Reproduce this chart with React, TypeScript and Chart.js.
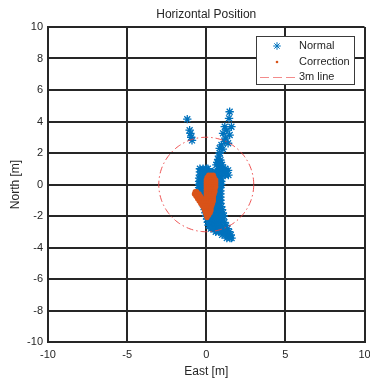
import React, { useEffect, useRef } from "react";
import { Chart, registerables } from "chart.js";
import { drawPoint } from "chart.js/helpers";

Chart.register(...registerables);

const titleText = "Horizontal Position";
const xTitle = "East [m]";
const yTitle = "North [m]";
const xTicks = [-10, -5, 0, 5, 10];
const yTicks = [-10, -8, -6, -4, -2, 0, 2, 4, 6, 8, 10];
const legendLabels = ["Normal", "Correction", "3m line"];

// "Normal" position fixes (East, North) in metres
const normalPoints: [number, number][] = [
  // isolated upper-left group
  [-1.2, 4.15], [-1.05, 3.45], [-1.0, 3.25], [-0.95, 3.0], [-0.9, 2.8],
  // upper-right column
  [1.48, 4.62], [1.44, 4.2], [1.17, 3.67], [1.59, 3.67], [1.3, 3.45],
  [1.06, 3.25], [1.48, 3.14], [1.2, 2.95], [1.17, 2.72], [0.96, 2.51],
  [1.38, 2.62], [0.85, 2.3], [1.05, 2.25], [0.85, 2.0], [0.8, 1.8],
  [0.75, 1.6], [0.9, 1.55], [0.7, 1.4], [0.9, 1.4], [0.64, 1.24],
  [0.85, 1.2], [1.0, 1.25], [0.8, 1.0], [1.0, 1.0], [1.2, 1.0],
  [1.0, 0.8], [1.2, 0.8], [1.38, 0.9],
  // main cluster
  [-0.4, 1.0], [-0.2, 1.0], [0.0, 1.0], [0.1, 1.0],
  [-0.4, 0.8], [-0.2, 0.8], [0.0, 0.8], [0.2, 0.8], [0.4, 0.8], [0.6, 0.8], [0.8, 0.8],
  [-0.4, 0.6], [-0.2, 0.6], [0.0, 0.6], [0.2, 0.6], [0.4, 0.6], [0.6, 0.6], [0.8, 0.6], [1.0, 0.6], [1.2, 0.6], [1.4, 0.6],
  [-0.45, 0.4], [-0.25, 0.4], [-0.05, 0.4], [0.15, 0.4], [0.35, 0.4], [0.55, 0.4], [0.75, 0.4], [0.95, 0.4],
  [-0.45, 0.2], [-0.25, 0.2], [-0.05, 0.2], [0.15, 0.2], [0.35, 0.2], [0.55, 0.2], [0.75, 0.2], [0.95, 0.2],
  [-0.45, 0.0], [-0.25, 0.0], [-0.05, 0.0], [0.15, 0.0], [0.35, 0.0], [0.55, 0.0], [0.75, 0.0], [0.95, 0.0],
  [-0.45, -0.2], [-0.25, -0.2], [-0.05, -0.2], [0.15, -0.2], [0.35, -0.2], [0.55, -0.2], [0.75, -0.2], [0.9, -0.2],
  [-0.45, -0.4], [-0.25, -0.4], [-0.05, -0.4], [0.15, -0.4], [0.35, -0.4], [0.55, -0.4], [0.75, -0.4], [0.9, -0.4],
  [-0.4, -0.6], [-0.2, -0.6], [0.0, -0.6], [0.2, -0.6], [0.4, -0.6], [0.6, -0.6], [0.75, -0.6], [0.9, -0.6],
  [-0.35, -0.8], [-0.15, -0.8], [0.05, -0.8], [0.25, -0.8], [0.45, -0.8], [0.65, -0.8], [0.9, -0.8],
  [-0.3, -1.0], [-0.1, -1.0], [0.1, -1.0], [0.3, -1.0], [0.5, -1.0], [0.7, -1.0], [0.9, -1.0],
  [-0.2, -1.2], [0.0, -1.2], [0.2, -1.2], [0.4, -1.2], [0.6, -1.2], [0.75, -1.2], [0.9, -1.2],
  [-0.15, -1.4], [0.05, -1.4], [0.25, -1.4], [0.45, -1.4], [0.65, -1.4], [0.8, -1.4], [0.95, -1.4],
  [-0.1, -1.6], [0.1, -1.6], [0.3, -1.6], [0.5, -1.6], [0.7, -1.6], [0.85, -1.6], [1.0, -1.6],
  [-0.05, -1.8], [0.15, -1.8], [0.35, -1.8], [0.55, -1.8], [0.75, -1.8], [0.9, -1.8], [1.05, -1.8],
  [0.0, -2.0], [0.2, -2.0], [0.4, -2.0], [0.6, -2.0], [0.8, -2.0], [0.95, -2.0], [1.1, -2.0],
  [0.05, -2.2], [0.25, -2.2], [0.45, -2.2], [0.65, -2.2], [0.85, -2.2], [1.05, -2.2],
  [0.1, -2.4], [0.3, -2.4], [0.5, -2.4], [0.7, -2.4], [0.9, -2.4], [1.15, -2.4],
  [0.15, -2.6], [0.35, -2.6], [0.55, -2.6], [0.75, -2.6], [0.95, -2.6], [1.25, -2.6],
  [0.3, -2.8], [0.5, -2.8], [0.7, -2.8], [0.9, -2.8], [1.1, -2.8], [1.35, -2.8],
  [0.6, -3.0], [0.8, -3.0], [1.0, -3.0], [1.2, -3.0], [1.45, -3.0],
  [1.0, -3.2], [1.2, -3.2], [1.4, -3.2], [1.55, -3.2],
  [1.3, -3.4], [1.5, -3.4], [1.6, -3.4],
];

// "Correction" position fixes (East, North) in metres
const correctionPoints: [number, number][] = [
  [0.15, 0.6], [0.3, 0.6], [0.45, 0.6],
  [0.05, 0.45], [0.2, 0.45], [0.35, 0.45], [0.5, 0.45],
  [0.0, 0.3], [0.15, 0.3], [0.3, 0.3], [0.45, 0.3], [0.6, 0.3],
  [0.0, 0.15], [0.15, 0.15], [0.3, 0.15], [0.45, 0.15], [0.6, 0.15],
  [0.0, 0.0], [0.15, 0.0], [0.3, 0.0], [0.45, 0.0], [0.6, 0.0],
  [0.0, -0.15], [0.15, -0.15], [0.3, -0.15], [0.45, -0.15], [0.6, -0.15],
  [0.0, -0.3], [0.15, -0.3], [0.3, -0.3], [0.45, -0.3], [0.55, -0.3],
  [-0.7, -0.45], [-0.6, -0.45], [0.0, -0.45], [0.15, -0.45], [0.3, -0.45], [0.45, -0.45], [0.55, -0.45],
  [-0.75, -0.6], [-0.6, -0.6], [-0.45, -0.6], [0.0, -0.6], [0.15, -0.6], [0.3, -0.6], [0.45, -0.6], [0.5, -0.6],
  [-0.65, -0.75], [-0.5, -0.75], [-0.35, -0.75], [0.0, -0.75], [0.15, -0.75], [0.3, -0.75], [0.45, -0.75],
  [-0.55, -0.9], [-0.4, -0.9], [-0.25, -0.9], [0.0, -0.9], [0.15, -0.9], [0.3, -0.9], [0.45, -0.9],
  [-0.45, -1.05], [-0.3, -1.05], [-0.15, -1.05], [0.0, -1.05], [0.15, -1.05], [0.3, -1.05], [0.45, -1.05],
  [-0.35, -1.2], [-0.2, -1.2], [-0.05, -1.2], [0.1, -1.2], [0.25, -1.2], [0.4, -1.2],
  [-0.25, -1.35], [-0.1, -1.35], [0.05, -1.35], [0.2, -1.35], [0.35, -1.35],
  [-0.15, -1.5], [0.0, -1.5], [0.15, -1.5], [0.3, -1.5],
  [-0.1, -1.65], [0.05, -1.65], [0.2, -1.65], [0.3, -1.65],
  [-0.05, -1.8], [0.1, -1.8], [0.25, -1.8],
  [0.0, -1.95], [0.15, -1.95],
  [0.05, -2.1],
];

const circleRadiusM = 3;
const circleSegments = 180;

const FONT = '"Liberation Sans", Arial, Helvetica, sans-serif';
const TEXT = "#262626";
const GRID = "#262626";
const BLUE = "#0072BD";
const ORANGE = "#D95319";
const RED = "rgba(236, 64, 64, 0.9)";
const CIRCLE_DASH = [7, 3, 1.5, 3];

const overlayPlugin = {
  id: "overlay",
  afterDraw(chart: any) {
    const { ctx, chartArea } = chart;
    ctx.save();
    ctx.fillStyle = TEXT;
    ctx.font = `12px ${FONT}`;
    ctx.textAlign = "center";
    ctx.textBaseline = "middle";
    ctx.fillText(titleText, (chartArea.left + chartArea.right) / 2, 15);

    // legend box
    const bx = 256, by = 36, bw = 98, bh = 48;
    ctx.fillStyle = "#ffffff";
    ctx.fillRect(bx, by, bw, bh);
    ctx.strokeStyle = "#3a3a3a";
    ctx.lineWidth = 1;
    ctx.strokeRect(bx + 0.5, by + 0.5, bw, bh);

    const rows = [46, 62, 77];
    const mx = 277;
    ctx.strokeStyle = BLUE;
    ctx.fillStyle = BLUE;
    drawPoint(ctx, { pointStyle: "star", radius: 3.8, borderWidth: 1.2 } as any, mx, rows[0]);
    ctx.fillStyle = ORANGE;
    ctx.beginPath();
    ctx.arc(mx, rows[1], 1.3, 0, Math.PI * 2);
    ctx.fill();
    ctx.strokeStyle = "rgba(240, 110, 110, 0.8)";
    ctx.lineWidth = 1;
    ctx.setLineDash([9, 4]);
    ctx.beginPath();
    ctx.moveTo(260, rows[2] + 0.5);
    ctx.lineTo(295, rows[2] + 0.5);
    ctx.stroke();
    ctx.setLineDash([]);

    ctx.fillStyle = TEXT;
    ctx.font = `11px ${FONT}`;
    ctx.textAlign = "left";
    legendLabels.forEach((t, i) => ctx.fillText(t, 299, rows[i]));
    ctx.restore();
  },
};

function zeroPadding(s: any) {
  s.paddingLeft = 0;
  s.paddingRight = 0;
  s.paddingTop = 0;
  s.paddingBottom = 0;
}

export default function App() {
  const ref = useRef<HTMLCanvasElement | null>(null);

  useEffect(() => {
    if (!ref.current) return;
    const circlePoints = Array.from({ length: circleSegments + 1 }, (_, i) => {
      const a = (i / circleSegments) * Math.PI * 2;
      return { x: circleRadiusM * Math.cos(a), y: circleRadiusM * Math.sin(a) };
    });

    const chart = new Chart(ref.current, {
      type: "scatter",
      data: {
        datasets: [
          {
            label: legendLabels[0],
            data: normalPoints.map(([x, y]) => ({ x, y })),
            pointStyle: "star",
            pointRadius: 4.2,
            pointBorderWidth: 1.3,
            borderColor: BLUE,
            backgroundColor: BLUE,
            order: 3,
          },
          {
            label: legendLabels[1],
            data: correctionPoints.map(([x, y]) => ({ x, y })),
            pointStyle: "circle",
            pointRadius: 2.6,
            pointBorderWidth: 0,
            borderColor: ORANGE,
            backgroundColor: ORANGE,
            order: 2,
          },
          {
            label: legendLabels[2],
            data: circlePoints,
            showLine: true,
            pointRadius: 0,
            borderColor: RED,
            borderWidth: 1,
            borderDash: CIRCLE_DASH,
            fill: false,
            tension: 0,
            order: 1,
          } as any,
        ],
      },
      options: {
        animation: false,
        responsive: false,
        events: [],
        layout: { padding: { top: 27, right: 5, left: 0, bottom: 0 } },
        plugins: {
          legend: { display: false },
          title: { display: false },
          tooltip: { enabled: false },
        },
        scales: {
          x: {
            type: "linear",
            min: -10,
            max: 10,
            afterBuildTicks: (s: any) => {
              s.ticks = xTicks.map((value) => ({ value }));
            },
            afterFit: (s: any) => {
              s.height = 40;
              zeroPadding(s);
            },
            grid: { color: GRID, lineWidth: 2, drawTicks: false },
            border: { display: true, color: GRID, width: 2 },
            ticks: {
              padding: 6,
              color: TEXT,
              font: { family: FONT, size: 11 },
              maxRotation: 0,
              autoSkip: false,
            },
            title: {
              display: true,
              text: xTitle,
              color: TEXT,
              font: { family: FONT, size: 12 },
              padding: { top: 0, bottom: 3 },
            },
          },
          y: {
            type: "linear",
            min: -10,
            max: 10,
            afterBuildTicks: (s: any) => {
              s.ticks = yTicks.map((value) => ({ value }));
            },
            afterFit: (s: any) => {
              s.width = 48;
              zeroPadding(s);
            },
            grid: { color: GRID, lineWidth: 2, drawTicks: false },
            border: { display: true, color: GRID, width: 2 },
            ticks: {
              padding: 5,
              color: TEXT,
              font: { family: FONT, size: 11 },
              autoSkip: false,
            },
            title: {
              display: true,
              text: yTitle,
              color: TEXT,
              font: { family: FONT, size: 12 },
              padding: { top: 8, bottom: 0 },
            },
          },
        },
      },
      plugins: [overlayPlugin],
    } as any);

    return () => chart.destroy();
  }, []);

  return (
    <div style={{ position: "fixed", left: 0, top: 0, width: 370, height: 382, background: "#fff" }}>
      <canvas ref={ref} width={370} height={382} style={{ display: "block", width: 370, height: 382 }} />
    </div>
  );
}
